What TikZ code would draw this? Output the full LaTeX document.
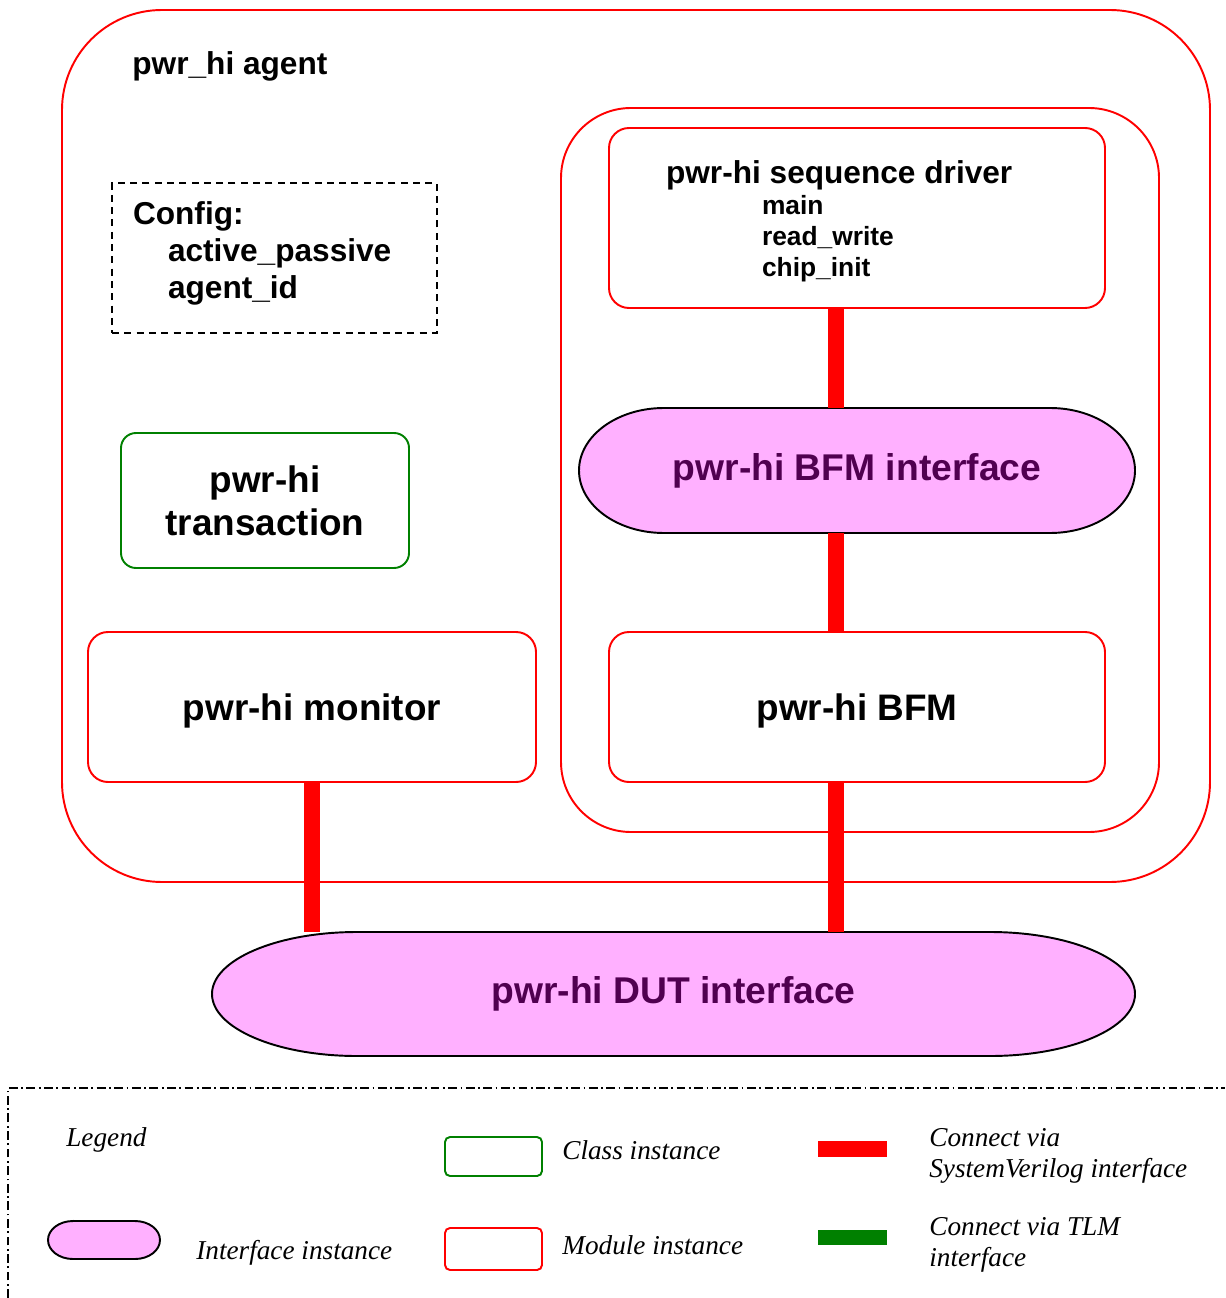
\documentclass[tikz,border=0pt]{standalone}
\usepackage{fontspec}
\setmainfont{Liberation Sans}
\newfontfamily\legendfont{Liberation Serif}
\usetikzlibrary{backgrounds}

\definecolor{ifpink}{RGB}{255,176,255}
\definecolor{ifpurple}{RGB}{80,0,80}
\definecolor{tlmgreen}{RGB}{0,128,0}

\begin{document}
\begin{tikzpicture}
    [module/.style={draw=red, line width=1.1pt, rounded corners=0.4cm},
     classbox/.style={draw=tlmgreen, line width=1.1pt, rounded corners=0.3cm},
     iface/.style={outer sep=0pt, text=ifpurple, font=\fontsize{21.2pt}{25pt}\selectfont\bfseries},
     ifpill/.style={fill=ifpink, draw=black, line width=1.1pt},
     bigtext/.style={font=\fontsize{21pt}{24.4pt}\selectfont\bfseries},
     svlink/.style={draw=red, line width=0.32cm},
     tlmlink/.style={draw=tlmgreen, line width=0.3cm},
     key/.style={anchor=west, align=left, inner xsep=0pt, font=\legendfont\itshape\fontsize{15.5pt}{17.6pt}\selectfont}]
    \useasboundingbox (0,0) rectangle (24.5,-25.96);

    % agent, driver side
    \node[module, rounded corners=2cm, minimum width=22.96cm, minimum height=17.44cm] (agent) at (12.72,-8.92) {};
    \node[anchor=base west, inner sep=0pt, font=\fontsize{18pt}{21pt}\selectfont\bfseries] (agentlbl) at (2.64,-1.5) {pwr\_hi agent};
    \node[module, rounded corners=1.4cm, minimum width=11.96cm, minimum height=14.48cm] (drvside) at (17.2,-9.4) {};
    \node[module, minimum width=9.92cm, minimum height=3.6cm, text width=7.64cm, inner xsep=1.14cm, align=left,
          font=\fontsize{15pt}{17.6pt}\selectfont\bfseries] (drv) at (17.14,-4.36)
          {{\fontsize{18pt}{17.6pt}\selectfont\rule{0pt}{17pt}pwr-hi sequence driver}\\
           \hspace*{1.92cm}main\\ \hspace*{1.92cm}read\_write\\ \hspace*{1.92cm}chip\_init};
    \node[iface, minimum width=11.12cm, minimum height=2.5cm] (bfmif) at (17.14,-9.41) {pwr-hi BFM interface};
    \node[module, bigtext, text depth=0pt, minimum width=9.92cm, minimum height=3cm] (bfm) at (17.14,-14.14) {pwr-hi BFM};

    % monitor side
    \node[draw, line width=1pt, dash pattern=on 4pt off 3pt, minimum width=6.5cm, minimum height=3cm,
          text width=5.66cm, inner xsep=0.42cm, align=left, font=\fontsize{18pt}{21.3pt}\selectfont\bfseries] (cfg) at (5.49,-5.16)
          {Config:\\ \hspace*{0.7cm}active\_passive\\ \hspace*{0.7cm}agent\_id\rule[-9pt]{0pt}{0pt}};
    \node[classbox, bigtext, minimum width=5.76cm, minimum height=2.7cm, align=center] (txn) at (5.3,-10.01) {pwr-hi\\transaction};
    \node[module, bigtext, text depth=0pt, minimum width=8.96cm, minimum height=3cm] (mon) at (6.24,-14.14) {pwr-hi monitor};

    \node[iface, minimum width=18.46cm, minimum height=2.48cm] (dutif) at (13.47,-19.88) {pwr-hi DUT interface};

    % interfaces get pill outlines behind the text
    \node[outer sep=0pt, minimum width=2.24cm, minimum height=0.76cm] (keyif) at (2.08,-24.8) {};
    \begin{scope}[on background layer]
      \foreach \n/\rx/\ry in {bfmif/1.7/1.25, dutif/2.9/1.24, keyif/0.5/0.38}
        \path[ifpill] ([xshift=\rx cm]\n.north west) -- ([xshift=-\rx cm]\n.north east)
          arc[start angle=90, end angle=-90, x radius=\rx cm, y radius=\ry cm]
          -- ([xshift=\rx cm]\n.south west)
          arc[start angle=270, end angle=90, x radius=\rx cm, y radius=\ry cm] -- cycle;
    \end{scope}

    % systemverilog connections
    \coordinate (busx) at (16.72,0);
    \foreach \from/\to in {drv/bfmif, bfmif/bfm, bfm/dutif}
      \draw[svlink] (\from.south -| busx) -- (\to.north -| busx);
    \draw[svlink] (mon.south) -- (mon.south |- dutif.north);

    % legend
    \draw[line width=0.9pt, dash pattern=on 5pt off 2pt on 1pt off 2pt] (0.16,-25.96) -- (0.16,-21.76) -- (24.5,-21.76);
    \node[key] (keytitle) at (1.32,-22.8) {Legend};
    \node[key] (keyiftxt) at (3.92,-25.06) {Interface instance};
    \node[classbox, rounded corners=0.1cm, minimum width=1.94cm, minimum height=0.78cm] (keyclass) at (9.87,-23.13) {};
    \node[key] (keyclasstxt) at (11.24,-23.0) {Class instance};
    \node[module, rounded corners=0.1cm, minimum width=1.94cm, minimum height=0.84cm] (keymod) at (9.87,-24.98) {};
    \node[key] (keymodtxt) at (11.24,-24.9) {Module instance};
    \coordinate (svA) at (16.36,-22.98);
    \coordinate (svB) at (17.74,-22.98);
    \draw[svlink] (svA) -- (svB);
    \node[key] (keysvtxt) at (18.58,-23.11) {Connect via\\SystemVerilog interface};
    \coordinate (tlmA) at (16.36,-24.75);
    \coordinate (tlmB) at (17.74,-24.75);
    \draw[tlmlink] (tlmA) -- (tlmB);
    \node[key] (keytlmtxt) at (18.58,-24.9) {Connect via TLM\\interface};
\end{tikzpicture}
\end{document}
